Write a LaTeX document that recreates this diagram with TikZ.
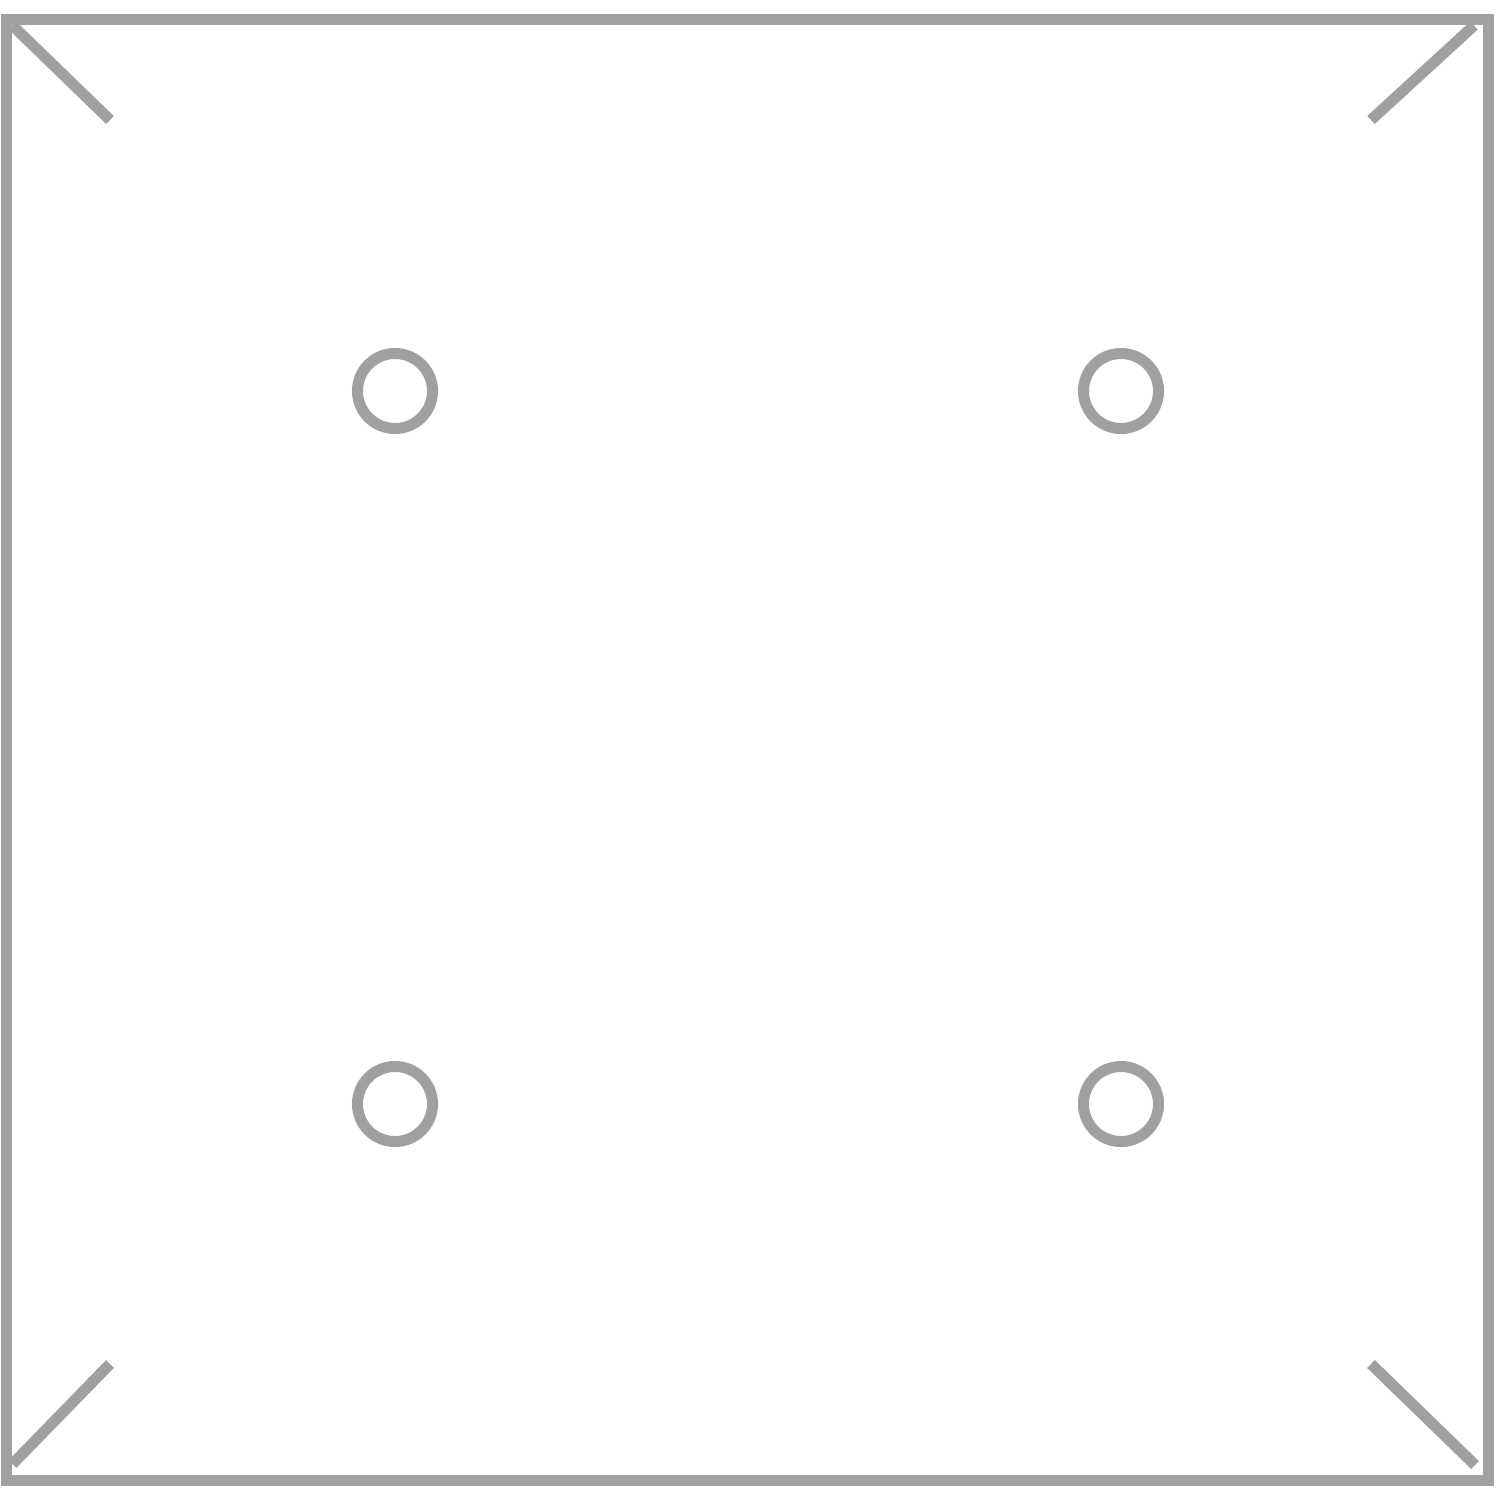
\documentclass[tikz,border=0pt]{standalone}
\usetikzlibrary{calc}
\definecolor{boardgray}{RGB}{160,160,160}
\tikzset{
	boardline/.style={draw=boardgray, line width=0.11cm},
	hole/.style={circle, draw=boardgray, line width=0.11cm,
		minimum size=0.75cm, inner sep=0pt}
}
\begin{document}
\begin{tikzpicture}[x=0.01cm, y=-0.01cm]
		\useasboundingbox (0,0) rectangle (1496,1496);
		% outer frame
		\coordinate (tl) at (6.5,19.5);
		\coordinate (tr) at (1488,19.5);
		\coordinate (bl) at (6.5,1480);
		\coordinate (br) at (1488,1480);
		\draw[boardline] (tl) rectangle (br);
		
		% corner folds
		\draw[boardline] ($(tl)+(6,6)$) -- (110,120);
		\draw[boardline] ($(tr)+(-14,6)$) -- (1371,120);
		\draw[boardline] ($(bl)+(6,-16)$) -- (110,1364);
		\draw[boardline] ($(br)+(-13,-15)$) -- (1371,1364);
		
		% holes
		\foreach \name/\x/\y in {htl/395/391, htr/1121/391, hbl/395/1104, hbr/1121/1104}
		\node[hole] (\name) at (\x,\y) {};
	\end{tikzpicture}
\end{document}
